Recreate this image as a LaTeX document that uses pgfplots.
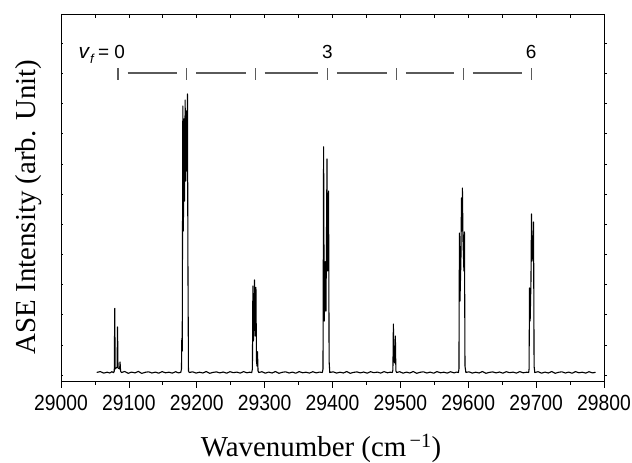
\documentclass[border=0pt]{standalone}
\usepackage{pgfplots}
\pgfplotsset{compat=1.18}
\usepackage{fontspec}
\setmainfont{Liberation Serif}
\newfontfamily\arial{Liberation Sans}
\definecolor{annot}{HTML}{5A5A5A}
\begin{document}
\begin{tikzpicture}
\useasboundingbox (-61bp,-82bp) rectangle (571bp,381bp);
\pgfplotsset{
  common/.style={scale only axis, width=543bp, height=367bp,
    xmin=29000, xmax=29800, ymin=0, ymax=367,
    scaled x ticks=false, scaled y ticks=false,
    axis line style={black, line width=0.8pt},
    every tick/.style={black, line width=0.7pt}},
}
% main axis with data, bottom outward x ticks
\begin{axis}[common,
  xtick={29000,29100,...,29800}, minor x tick num=1,
  xtick pos=bottom, tick align=outside,
  major tick length=6.5bp, minor tick length=3.5bp,
  ytick=\empty,
  /pgf/number format/assume math mode=true,
  /pgf/number format/1000 sep={},
  xticklabel style={font=\arial\fontsize{22}{22}\selectfont, xscale=0.88, yshift=-4bp},
  xlabel={Wavenumber (cm\textsuperscript{\,−1})},
  xlabel style={font=\fontsize{29}{29}\selectfont, at={(axis description cs:0.479,-0.185)}, anchor=center},
  ylabel={ASE Intensity (arb. Unit)},
  ylabel style={font=\fontsize{29}{29}\selectfont, at={(axis description cs:-0.059,0.474)}, anchor=center, rotate=0},
]
\addplot[black, line width=1.1pt, line join=round] coordinates {
(29052.6,8.6) (29058,9.4) (29063,7.9) (29068,8.8) (29072,8.0) (29075,9.3) (29077.5,8.3)
(29078.5,10) (29079.2,72.7) (29079.8,12) (29082.6,14) (29083.3,54) (29084.0,13)
(29086.4,12) (29087.0,19) (29087.8,10) (29089,8.5)
(29094,9.5) (29099,7.7) (29104,8.9) (29109,8.1) (29114,9.6) (29119,7.6) (29124,8.7)
(29129,9.2) (29134,8.0) (29139,8.9) (29144,7.8) (29149,9.4) (29154,8.2) (29159,8.8)
(29164,7.9) (29169,9.3) (29173,8.1) (29176.5,8.7)
(29177.5,12) (29178.0,42.7) (29178.6,30) (29179.5,275) (29180.3,150) (29181.2,262)
(29182.0,180) (29182.9,281) (29183.8,200) (29184.6,270) (29185.4,210) (29186.3,287)
(29187.0,120) (29187.8,10) (29189,8.5)
(29194,9.2) (29199,7.9) (29204,8.8) (29209,8.0) (29214,9.5) (29219,7.7) (29224,8.6)
(29229,9.1) (29234,8.1) (29239,9.0) (29244,7.8) (29249,9.3) (29254,8.3) (29259,8.9)
(29264,7.9) (29269,9.4) (29274,8.2) (29278,8.8) (29281,8.4)
(29282.0,12) (29282.7,95) (29283.5,40) (29284.3,60) (29285.1,101) (29286.0,45)
(29287.2,93.7) (29288.0,20) (29288.8,15) (29289.5,29.3) (29290.3,10) (29291.5,8.5)
(29296,9.3) (29301,7.8) (29306,8.9) (29311,8.0) (29316,9.5) (29321,7.7) (29326,8.7)
(29331,9.2) (29336,8.0) (29341,8.9) (29346,7.8) (29351,9.4) (29356,8.2) (29361,8.8)
(29366,7.9) (29371,9.3) (29376,8.1) (29381,8.9) (29385,8.5)
(29386.0,12) (29386.9,234.3) (29387.8,60) (29388.6,80) (29389.4,119.3) (29390.4,70)
(29391.9,222) (29392.8,110) (29393.5,140) (29394.2,190) (29395.0,20) (29396,8.5)
(29401,9.2) (29406,7.9) (29411,8.8) (29416,8.0) (29421,9.5) (29426,7.7) (29431,8.6)
(29436,9.1) (29441,8.1) (29446,9.0) (29451,7.8) (29456,9.3) (29461,8.3) (29466,8.9)
(29471,7.9) (29476,9.4) (29481,8.2) (29485,8.8) (29488,8.5)
(29489.0,11) (29489.7,57) (29490.5,20) (29491.9,18) (29492.6,45) (29493.4,10) (29494.5,8.5)
(29499,9.3) (29504,7.8) (29509,8.9) (29514,8.0) (29519,9.5) (29524,7.7) (29529,8.7)
(29534,9.2) (29539,8.0) (29544,8.9) (29549,7.8) (29554,9.4) (29559,8.2) (29564,8.8)
(29569,7.9) (29574,9.3) (29579,8.1) (29583,8.9) (29585.5,8.5)
(29586.3,12) (29587.0,148) (29587.8,80) (29589.2,120) (29590.0,183) (29590.7,150)
(29591.4,193) (29592.3,140) (29593.6,110) (29594.4,149) (29595.2,15) (29596.5,8.5)
(29601,9.2) (29606,7.9) (29611,8.8) (29616,8.0) (29621,9.5) (29626,7.7) (29631,8.6)
(29636,9.1) (29641,8.1) (29646,9.0) (29651,7.8) (29656,9.3) (29661,8.3) (29666,8.9)
(29671,7.9) (29676,9.4) (29681,8.2) (29686,8.8) (29689,8.5)
(29689.6,12) (29690.3,93) (29691.2,60) (29692.4,100) (29693.2,167) (29694.0,120)
(29695.4,130) (29696.2,159) (29697.0,15) (29698,8.5)
(29703,9.3) (29708,7.8) (29713,8.9) (29718,8.0) (29723,9.5) (29728,7.7) (29733,8.7)
(29738,9.2) (29743,8.0) (29748,8.9) (29753,7.8) (29758,9.4) (29763,8.2) (29768,8.8)
(29773,7.9) (29778,9.3) (29783,8.1) (29787.6,8.7)
};
% progression annotation
\draw[annot, line width=1.1pt]
  (axis cs:29084,301) -- (axis cs:29084,313)
  (axis cs:29185.4,301) -- (axis cs:29185.4,313)
  (axis cs:29286.1,301) -- (axis cs:29286.1,313)
  (axis cs:29392.3,301) -- (axis cs:29392.3,313)
  (axis cs:29494,301) -- (axis cs:29494,313)
  (axis cs:29592.9,301) -- (axis cs:29592.9,313)
  (axis cs:29692.8,301) -- (axis cs:29692.8,313)
  (axis cs:29098,308) -- (axis cs:29171.4,308)
  (axis cs:29199.4,308) -- (axis cs:29272.1,308)
  (axis cs:29300.1,308) -- (axis cs:29378.3,308)
  (axis cs:29406.3,308) -- (axis cs:29480,308)
  (axis cs:29508,308) -- (axis cs:29578.9,308)
  (axis cs:29606.9,308) -- (axis cs:29678.8,308);
\node[anchor=base east, inner sep=0pt, font=\arial\fontsize{19}{19}\selectfont]
  at (axis cs:29094.4,322) {{\fontsize{21}{21}\selectfont\textit{v}}\raisebox{-0.5ex}{\fontsize{13}{13}\selectfont\textit{f}}\,= 0};
\node[anchor=base, inner sep=0pt, font=\arial\fontsize{19}{19}\selectfont]
  at (axis cs:29392.3,322) {3};
\node[anchor=base, inner sep=0pt, font=\arial\fontsize{19}{19}\selectfont]
  at (axis cs:29692.8,322) {6};
\end{axis}
% top inward x ticks
\begin{axis}[common,
  xtick={29000,29100,...,29800}, minor x tick num=1,
  xtick pos=top, tick align=inside, xticklabels={},
  major tick length=4bp, minor tick length=4bp,
  ytick=\empty]
\end{axis}
% left inward y ticks
\begin{axis}[common,
  xtick=\empty,
  ytick={6,36.15,...,340}, ytick pos=left, tick align=inside, yticklabels={},
  major tick length=2.5bp]
\end{axis}
% right outward y ticks
\begin{axis}[common,
  xtick=\empty,
  ytick={6,36.15,...,340}, ytick pos=right, tick align=outside, yticklabels={},
  major tick length=2.5bp]
\end{axis}
\end{tikzpicture}
\end{document}
